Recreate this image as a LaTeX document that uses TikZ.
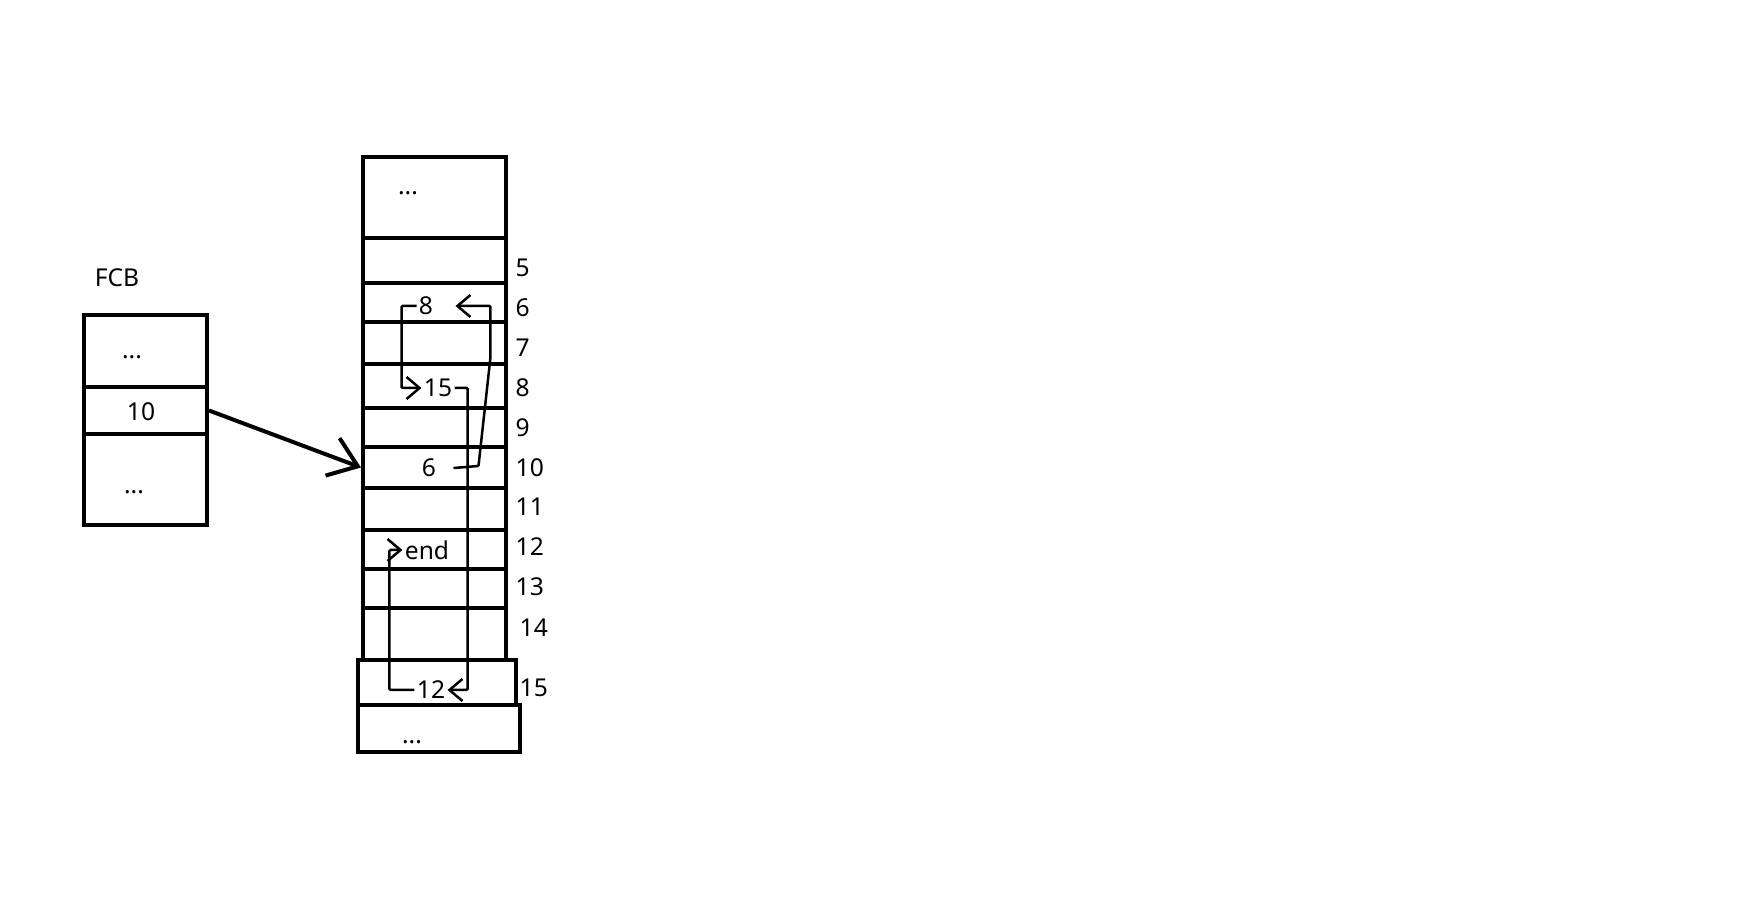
\documentclass[tikz,border=0pt]{standalone}
\usepackage{fontspec}
\setmainfont{Noto Sans}
\usetikzlibrary{arrows.meta}

\begin{document}
\begin{tikzpicture}[
  font=\fontsize{7}{8.4}\selectfont,
  cell/.style={draw, line width=0.4mm, minimum width=14.3mm, inner sep=0pt},
  fcbcell/.style={draw, line width=0.4mm, minimum width=12.3mm, inner sep=0pt},
  val/.style={inner sep=0.5pt},
  num/.style={anchor=west, inner sep=0pt},
  link/.style={-{Straight Barb[length=1.3mm,width=2.2mm]}, line width=0.25mm, rounded corners=0.3pt},
  ptr/.style={-{Straight Barb[length=2.7mm,width=4mm]}, line width=0.4mm}
]
\useasboundingbox (0,0) rectangle (17.51,-9.24);

% FCB
\node[val] (fcb) at (1.17,-2.78) {FCB};
\node[fcbcell, minimum height=7.2mm] (fcbtop) at (1.455,-3.51) {};
\node[fcbcell, minimum height=4.7mm] (fcbptr) at (1.455,-4.105) {};
\node[fcbcell, minimum height=9.1mm] (fcbrest) at (1.455,-4.795) {};
\node[val] (fcbdots) at (1.32,-3.57) {...};
\node[val] (fcbstart) at (1.41,-4.12) {10};
\node[val] (fcbmore) at (1.34,-4.92) {...};

% disk blocks
\node[cell, minimum height=8.1mm] (btop) at (4.345,-1.975) {};
\node[cell, minimum height=4.5mm] (b5) at (4.345,-2.605) {};
\node[cell, minimum height=3.9mm] (b6) at (4.345,-3.025) {};
\node[cell, minimum height=4.2mm] (b7) at (4.345,-3.43) {};
\node[cell, minimum height=4.4mm] (b8) at (4.345,-3.86) {};
\node[cell, minimum height=3.9mm] (b9) at (4.345,-4.275) {};
\node[cell, minimum height=4.1mm] (b10) at (4.345,-4.675) {};
\node[cell, minimum height=4.2mm] (b11) at (4.345,-5.09) {};
\node[cell, minimum height=3.9mm] (b12) at (4.345,-5.495) {};
\node[cell, minimum height=3.9mm] (b13) at (4.345,-5.885) {};
\node[cell, minimum height=5.2mm] (b14) at (4.345,-6.34) {};
\node[cell, minimum width=15.8mm, minimum height=4.5mm] (b15) at (4.37,-6.825) {};
\node[cell, minimum width=16.2mm, minimum height=4.7mm] (bend) at (4.39,-7.285) {};

% block numbers
\node[num] (n5) at (5.15,-2.68) {5};
\node[num] (n6) at (5.15,-3.08) {6};
\node[num] (n7) at (5.15,-3.48) {7};
\node[num] (n8) at (5.15,-3.88) {8};
\node[num] (n9) at (5.15,-4.28) {9};
\node[num] (n10) at (5.15,-4.68) {10};
\node[num] (n11) at (5.15,-5.07) {11};
\node[num] (n12) at (5.15,-5.47) {12};
\node[num] (n13) at (5.15,-5.87) {13};
\node[num] (n14) at (5.19,-6.28) {14};
\node[num] (n15) at (5.19,-6.88) {15};

% block contents
\node[val] (vtop) at (4.08,-1.93) {...};
\node[val] (v6) at (4.26,-3.06) {8};
\node[val] (v8) at (4.38,-3.88) {15};
\node[val] (v10) at (4.29,-4.68) {6};
\node[val] (v12) at (4.27,-5.50) {end};
\node[val] (v15) at (4.31,-6.90) {12};
\node[val] (vend) at (4.12,-7.42) {...};

% chain
\draw[ptr] (fcbptr.east) -- (b10.west);
\draw[link] ([xshift=1.5mm]v10.east) -- ++(0.25,0.02) -- ++(0.12,1.09) |- ([xshift=2mm]v6.east);
\draw[link] (v6.west) -- ++(-0.15,0) |- (v8.west);
\draw[link] (v8.east) -- ++(0.13,0) |- (v15.east);
\draw[link] (v15.west) -- ++(-0.25,0) |- (v12.west);

\end{tikzpicture}
\end{document}
